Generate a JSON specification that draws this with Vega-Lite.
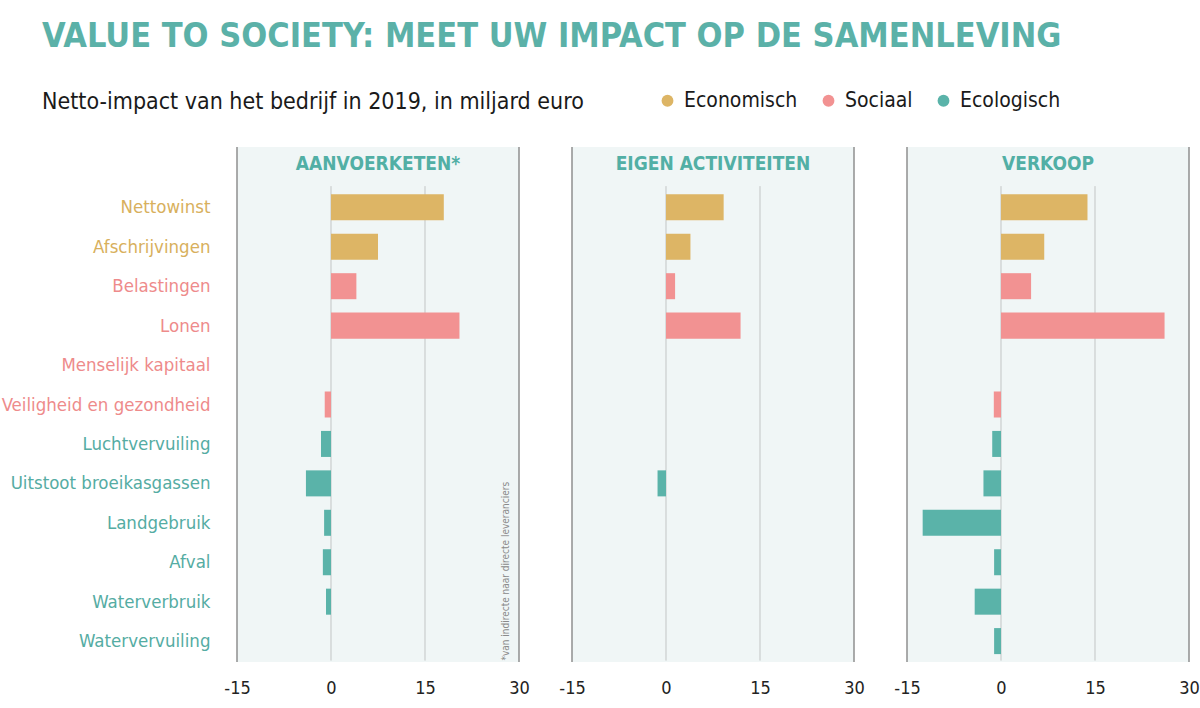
{
  "$schema": "https://vega.github.io/schema/vega-lite/v6.json",
  "padding": {"left": 0, "top": 20, "right": 0, "bottom": 0},
  "background": "white",
  "title": {
    "text": "VALUE TO SOCIETY: MEET UW IMPACT OP DE SAMENLEVING",
    "subtitle": "Netto-impact van het bedrijf in 2019, in miljard euro",
    "anchor": "start",
    "frame": "bounds",
    "dx": 42,
    "font": "DejaVu Sans Condensed",
    "fontSize": 34,
    "fontWeight": "bold",
    "color": "#5BB1A8",
    "subtitleFont": "DejaVu Sans Condensed",
    "subtitleFontSize": 23,
    "subtitleColor": "#1a1a1a",
    "subtitlePadding": 37,
    "offset": -24
  },
  "data": {
    "values": [
      {"panel": "AANVOERKETEN*", "categorie": "Nettowinst", "type": "Economisch", "waarde": 18.0},
      {"panel": "AANVOERKETEN*", "categorie": "Afschrijvingen", "type": "Economisch", "waarde": 7.5},
      {"panel": "AANVOERKETEN*", "categorie": "Belastingen", "type": "Sociaal", "waarde": 4.05},
      {"panel": "AANVOERKETEN*", "categorie": "Lonen", "type": "Sociaal", "waarde": 20.5},
      {"panel": "AANVOERKETEN*", "categorie": "Menselijk kapitaal", "type": "Sociaal", "waarde": 0},
      {"panel": "AANVOERKETEN*", "categorie": "Veiligheid en gezondheid", "type": "Sociaal", "waarde": -1.0},
      {"panel": "AANVOERKETEN*", "categorie": "Luchtvervuiling", "type": "Ecologisch", "waarde": -1.6},
      {"panel": "AANVOERKETEN*", "categorie": "Uitstoot broeikasgassen", "type": "Ecologisch", "waarde": -4.0},
      {"panel": "AANVOERKETEN*", "categorie": "Landgebruik", "type": "Ecologisch", "waarde": -1.1},
      {"panel": "AANVOERKETEN*", "categorie": "Afval", "type": "Ecologisch", "waarde": -1.3},
      {"panel": "AANVOERKETEN*", "categorie": "Waterverbruik", "type": "Ecologisch", "waarde": -0.8},
      {"panel": "AANVOERKETEN*", "categorie": "Watervervuiling", "type": "Ecologisch", "waarde": 0},
      {"panel": "EIGEN ACTIVITEITEN", "categorie": "Nettowinst", "type": "Economisch", "waarde": 9.2},
      {"panel": "EIGEN ACTIVITEITEN", "categorie": "Afschrijvingen", "type": "Economisch", "waarde": 3.9},
      {"panel": "EIGEN ACTIVITEITEN", "categorie": "Belastingen", "type": "Sociaal", "waarde": 1.45},
      {"panel": "EIGEN ACTIVITEITEN", "categorie": "Lonen", "type": "Sociaal", "waarde": 11.9},
      {"panel": "EIGEN ACTIVITEITEN", "categorie": "Menselijk kapitaal", "type": "Sociaal", "waarde": 0},
      {"panel": "EIGEN ACTIVITEITEN", "categorie": "Veiligheid en gezondheid", "type": "Sociaal", "waarde": 0},
      {"panel": "EIGEN ACTIVITEITEN", "categorie": "Luchtvervuiling", "type": "Ecologisch", "waarde": 0},
      {"panel": "EIGEN ACTIVITEITEN", "categorie": "Uitstoot broeikasgassen", "type": "Ecologisch", "waarde": -1.35},
      {"panel": "EIGEN ACTIVITEITEN", "categorie": "Landgebruik", "type": "Ecologisch", "waarde": 0},
      {"panel": "EIGEN ACTIVITEITEN", "categorie": "Afval", "type": "Ecologisch", "waarde": 0},
      {"panel": "EIGEN ACTIVITEITEN", "categorie": "Waterverbruik", "type": "Ecologisch", "waarde": 0},
      {"panel": "EIGEN ACTIVITEITEN", "categorie": "Watervervuiling", "type": "Ecologisch", "waarde": 0},
      {"panel": "VERKOOP", "categorie": "Nettowinst", "type": "Economisch", "waarde": 13.8},
      {"panel": "VERKOOP", "categorie": "Afschrijvingen", "type": "Economisch", "waarde": 6.9},
      {"panel": "VERKOOP", "categorie": "Belastingen", "type": "Sociaal", "waarde": 4.8},
      {"panel": "VERKOOP", "categorie": "Lonen", "type": "Sociaal", "waarde": 26.1},
      {"panel": "VERKOOP", "categorie": "Menselijk kapitaal", "type": "Sociaal", "waarde": 0},
      {"panel": "VERKOOP", "categorie": "Veiligheid en gezondheid", "type": "Sociaal", "waarde": -1.15},
      {"panel": "VERKOOP", "categorie": "Luchtvervuiling", "type": "Ecologisch", "waarde": -1.4},
      {"panel": "VERKOOP", "categorie": "Uitstoot broeikasgassen", "type": "Ecologisch", "waarde": -2.8},
      {"panel": "VERKOOP", "categorie": "Landgebruik", "type": "Ecologisch", "waarde": -12.5},
      {"panel": "VERKOOP", "categorie": "Afval", "type": "Ecologisch", "waarde": -1.1},
      {"panel": "VERKOOP", "categorie": "Waterverbruik", "type": "Ecologisch", "waarde": -4.2},
      {"panel": "VERKOOP", "categorie": "Watervervuiling", "type": "Ecologisch", "waarde": -1.1}
    ]
  },
  "spacing": 28,
  "hconcat": [
    {
      "width": 282,
      "height": 515,
      "layer": [
        {
          "data": {"values": [{"rand": -15}, {"rand": 30}]},
          "mark": {"type": "rule", "color": "#8f8f8f", "strokeWidth": 1.5},
          "encoding": {"x": {"field": "rand", "type": "quantitative", "scale": {"domain": [-15, 30], "nice": false, "zero": false}, "axis": {"title": null, "values": [-15, 0, 15, 30], "labelExpr": "'' + datum.value", "grid": false, "domain": false, "ticks": false, "labelFlush": false, "labelFontSize": 18, "labelFont": "DejaVu Sans Condensed", "labelColor": "#222222", "labelPadding": 17}}}
        },
        {
          "data": {"values": [{"lijn": 0}, {"lijn": 15}]},
          "mark": {"type": "rule", "color": "#c2c5c5", "strokeWidth": 1},
          "encoding": {
            "x": {"field": "lijn", "type": "quantitative", "axis": {"title": null, "values": [-15, 0, 15, 30], "labelExpr": "'' + datum.value", "grid": false, "domain": false, "ticks": false, "labelFlush": false, "labelFontSize": 18, "labelFont": "DejaVu Sans Condensed", "labelColor": "#222222", "labelPadding": 17}},
            "y": {"datum": "kop", "type": "nominal", "bandPosition": 1.2, "axis": {
                "title": null, "domain": false, "ticks": false, "labelFontSize": 18.5, "labelFont": "DejaVu Sans Condensed", "labelPadding": 27, "labelLimit": 0,
                "minExtent": 237, "maxExtent": 237,
                "labelExpr": "datum.value === 'kop' ? '' : datum.value",
                "labelColor": {"condition": [{"test": "indexof(['Nettowinst','Afschrijvingen'], datum.value) >= 0", "value": "#D8B05D"}, {"test": "indexof(['Belastingen','Lonen','Menselijk kapitaal','Veiligheid en gezondheid'], datum.value) >= 0", "value": "#EE8B8B"}], "value": "#55ACA3"}
              }},
            "y2": {"datum": "Watervervuiling", "bandPosition": 1.25}
          }
        },
        {
          "transform": [{"filter": "datum.panel === 'AANVOERKETEN*'"}],
          "mark": {"type": "bar"},
          "encoding": {
            "y": {
              "field": "categorie", "type": "nominal",
              "scale": {"domain": ["kop", "Nettowinst", "Afschrijvingen", "Belastingen", "Lonen", "Menselijk kapitaal", "Veiligheid en gezondheid", "Luchtvervuiling", "Uitstoot broeikasgassen", "Landgebruik", "Afval", "Waterverbruik", "Watervervuiling"], "paddingInner": 0.34, "paddingOuter": 0.2},
              "axis": {
                "title": null, "domain": false, "ticks": false, "labelFontSize": 18.5, "labelFont": "DejaVu Sans Condensed", "labelPadding": 27, "labelLimit": 0,
                "minExtent": 237, "maxExtent": 237,
                "labelExpr": "datum.value === 'kop' ? '' : datum.value",
                "labelColor": {"condition": [{"test": "indexof(['Nettowinst','Afschrijvingen'], datum.value) >= 0", "value": "#D8B05D"}, {"test": "indexof(['Belastingen','Lonen','Menselijk kapitaal','Veiligheid en gezondheid'], datum.value) >= 0", "value": "#EE8B8B"}], "value": "#55ACA3"}
              }
            },
            "x": {"field": "waarde", "type": "quantitative", "axis": {"title": null, "values": [-15, 0, 15, 30], "labelExpr": "'' + datum.value", "grid": false, "domain": false, "ticks": false, "labelFlush": false, "labelFontSize": 18, "labelFont": "DejaVu Sans Condensed", "labelColor": "#222222", "labelPadding": 17}},
            "color": {
              "field": "type", "type": "nominal",
              "scale": {"domain": ["Economisch", "Sociaal", "Ecologisch"], "range": ["#DDB565", "#F29292", "#5AB3A9"]},
              "legend": {"orient": "none", "legendX": 420, "legendY": -57, "direction": "horizontal", "title": null, "symbolType": "circle", "symbolSize": 140, "symbolStrokeWidth": 0, "labelFontSize": 21, "labelFont": "DejaVu Sans Condensed", "labelColor": "#1a1a1a", "columnPadding": 20, "labelOffset": 6}
            }
          }
        },
        {
          "data": {"values": [{"kop": "AANVOERKETEN*"}]},
          "mark": {"type": "text", "font": "DejaVu Sans Condensed", "fontSize": 19, "fontWeight": "bold", "color": "#52AFA5", "dy": -4},
          "encoding": {
            "text": {"field": "kop"},
            "x": {"datum": 7.5, "axis": {"title": null, "values": [-15, 0, 15, 30], "labelExpr": "'' + datum.value", "grid": false, "domain": false, "ticks": false, "labelFlush": false, "labelFontSize": 18, "labelFont": "DejaVu Sans Condensed", "labelColor": "#222222", "labelPadding": 17}},
            "y": {"datum": "kop", "type": "nominal", "axis": {
                "title": null, "domain": false, "ticks": false, "labelFontSize": 18.5, "labelFont": "DejaVu Sans Condensed", "labelPadding": 27, "labelLimit": 0,
                "minExtent": 237, "maxExtent": 237,
                "labelExpr": "datum.value === 'kop' ? '' : datum.value",
                "labelColor": {"condition": [{"test": "indexof(['Nettowinst','Afschrijvingen'], datum.value) >= 0", "value": "#D8B05D"}, {"test": "indexof(['Belastingen','Lonen','Menselijk kapitaal','Veiligheid en gezondheid'], datum.value) >= 0", "value": "#EE8B8B"}], "value": "#55ACA3"}
              }}
          }
        },
        {
          "data": {"values": [{"noot": "*van indirecte naar directe leveranciers"}]},
          "mark": {"type": "text", "angle": 270, "align": "left", "baseline": "middle", "font": "DejaVu Sans Condensed", "fontSize": 10, "color": "#8a8a8a"},
          "encoding": {
            "text": {"field": "noot"},
            "x": {"datum": 28, "axis": {"title": null, "values": [-15, 0, 15, 30], "labelExpr": "'' + datum.value", "grid": false, "domain": false, "ticks": false, "labelFlush": false, "labelFontSize": 18, "labelFont": "DejaVu Sans Condensed", "labelColor": "#222222", "labelPadding": 17}},
            "y": {"datum": "Watervervuiling", "type": "nominal", "bandPosition": 1.25, "axis": {
                "title": null, "domain": false, "ticks": false, "labelFontSize": 18.5, "labelFont": "DejaVu Sans Condensed", "labelPadding": 27, "labelLimit": 0,
                "minExtent": 237, "maxExtent": 237,
                "labelExpr": "datum.value === 'kop' ? '' : datum.value",
                "labelColor": {"condition": [{"test": "indexof(['Nettowinst','Afschrijvingen'], datum.value) >= 0", "value": "#D8B05D"}, {"test": "indexof(['Belastingen','Lonen','Menselijk kapitaal','Veiligheid en gezondheid'], datum.value) >= 0", "value": "#EE8B8B"}], "value": "#55ACA3"}
              }}
          }
        }
      ]
    },
    {
      "width": 282,
      "height": 515,
      "layer": [
        {
          "data": {"values": [{"rand": -15}, {"rand": 30}]},
          "mark": {"type": "rule", "color": "#8f8f8f", "strokeWidth": 1.5},
          "encoding": {"x": {"field": "rand", "type": "quantitative", "scale": {"domain": [-15, 30], "nice": false, "zero": false}, "axis": {"title": null, "values": [-15, 0, 15, 30], "labelExpr": "'' + datum.value", "grid": false, "domain": false, "ticks": false, "labelFlush": false, "labelFontSize": 18, "labelFont": "DejaVu Sans Condensed", "labelColor": "#222222", "labelPadding": 17}}}
        },
        {
          "data": {"values": [{"lijn": 0}, {"lijn": 15}]},
          "mark": {"type": "rule", "color": "#c2c5c5", "strokeWidth": 1},
          "encoding": {
            "x": {"field": "lijn", "type": "quantitative", "axis": {"title": null, "values": [-15, 0, 15, 30], "labelExpr": "'' + datum.value", "grid": false, "domain": false, "ticks": false, "labelFlush": false, "labelFontSize": 18, "labelFont": "DejaVu Sans Condensed", "labelColor": "#222222", "labelPadding": 17}},
            "y": {"datum": "kop", "type": "nominal", "bandPosition": 1.2, "axis": null},
            "y2": {"datum": "Watervervuiling", "bandPosition": 1.25}
          }
        },
        {
          "transform": [{"filter": "datum.panel === 'EIGEN ACTIVITEITEN'"}],
          "mark": {"type": "bar"},
          "encoding": {
            "y": {
              "field": "categorie", "type": "nominal",
              "scale": {"domain": ["kop", "Nettowinst", "Afschrijvingen", "Belastingen", "Lonen", "Menselijk kapitaal", "Veiligheid en gezondheid", "Luchtvervuiling", "Uitstoot broeikasgassen", "Landgebruik", "Afval", "Waterverbruik", "Watervervuiling"], "paddingInner": 0.34, "paddingOuter": 0.2},
              "axis": null
            },
            "x": {"field": "waarde", "type": "quantitative", "axis": {"title": null, "values": [-15, 0, 15, 30], "labelExpr": "'' + datum.value", "grid": false, "domain": false, "ticks": false, "labelFlush": false, "labelFontSize": 18, "labelFont": "DejaVu Sans Condensed", "labelColor": "#222222", "labelPadding": 17}},
            "color": {
              "field": "type", "type": "nominal",
              "scale": {"domain": ["Economisch", "Sociaal", "Ecologisch"], "range": ["#DDB565", "#F29292", "#5AB3A9"]},
              "legend": {"orient": "none", "legendX": 420, "legendY": -57, "direction": "horizontal", "title": null, "symbolType": "circle", "symbolSize": 140, "symbolStrokeWidth": 0, "labelFontSize": 21, "labelFont": "DejaVu Sans Condensed", "labelColor": "#1a1a1a", "columnPadding": 20, "labelOffset": 6}
            }
          }
        },
        {
          "data": {"values": [{"kop": "EIGEN ACTIVITEITEN"}]},
          "mark": {"type": "text", "font": "DejaVu Sans Condensed", "fontSize": 19, "fontWeight": "bold", "color": "#52AFA5", "dy": -4},
          "encoding": {
            "text": {"field": "kop"},
            "x": {"datum": 7.5, "axis": {"title": null, "values": [-15, 0, 15, 30], "labelExpr": "'' + datum.value", "grid": false, "domain": false, "ticks": false, "labelFlush": false, "labelFontSize": 18, "labelFont": "DejaVu Sans Condensed", "labelColor": "#222222", "labelPadding": 17}},
            "y": {"datum": "kop", "type": "nominal", "axis": null}
          }
        }
      ]
    },
    {
      "width": 282,
      "height": 515,
      "layer": [
        {
          "data": {"values": [{"rand": -15}, {"rand": 30}]},
          "mark": {"type": "rule", "color": "#8f8f8f", "strokeWidth": 1.5},
          "encoding": {"x": {"field": "rand", "type": "quantitative", "scale": {"domain": [-15, 30], "nice": false, "zero": false}, "axis": {"title": null, "values": [-15, 0, 15, 30], "labelExpr": "'' + datum.value", "grid": false, "domain": false, "ticks": false, "labelFlush": false, "labelFontSize": 18, "labelFont": "DejaVu Sans Condensed", "labelColor": "#222222", "labelPadding": 17}}}
        },
        {
          "data": {"values": [{"lijn": 0}, {"lijn": 15}]},
          "mark": {"type": "rule", "color": "#c2c5c5", "strokeWidth": 1},
          "encoding": {
            "x": {"field": "lijn", "type": "quantitative", "axis": {"title": null, "values": [-15, 0, 15, 30], "labelExpr": "'' + datum.value", "grid": false, "domain": false, "ticks": false, "labelFlush": false, "labelFontSize": 18, "labelFont": "DejaVu Sans Condensed", "labelColor": "#222222", "labelPadding": 17}},
            "y": {"datum": "kop", "type": "nominal", "bandPosition": 1.2, "axis": null},
            "y2": {"datum": "Watervervuiling", "bandPosition": 1.25}
          }
        },
        {
          "transform": [{"filter": "datum.panel === 'VERKOOP'"}],
          "mark": {"type": "bar"},
          "encoding": {
            "y": {
              "field": "categorie", "type": "nominal",
              "scale": {"domain": ["kop", "Nettowinst", "Afschrijvingen", "Belastingen", "Lonen", "Menselijk kapitaal", "Veiligheid en gezondheid", "Luchtvervuiling", "Uitstoot broeikasgassen", "Landgebruik", "Afval", "Waterverbruik", "Watervervuiling"], "paddingInner": 0.34, "paddingOuter": 0.2},
              "axis": null
            },
            "x": {"field": "waarde", "type": "quantitative", "axis": {"title": null, "values": [-15, 0, 15, 30], "labelExpr": "'' + datum.value", "grid": false, "domain": false, "ticks": false, "labelFlush": false, "labelFontSize": 18, "labelFont": "DejaVu Sans Condensed", "labelColor": "#222222", "labelPadding": 17}},
            "color": {
              "field": "type", "type": "nominal",
              "scale": {"domain": ["Economisch", "Sociaal", "Ecologisch"], "range": ["#DDB565", "#F29292", "#5AB3A9"]},
              "legend": {"orient": "none", "legendX": 420, "legendY": -57, "direction": "horizontal", "title": null, "symbolType": "circle", "symbolSize": 140, "symbolStrokeWidth": 0, "labelFontSize": 21, "labelFont": "DejaVu Sans Condensed", "labelColor": "#1a1a1a", "columnPadding": 20, "labelOffset": 6}
            }
          }
        },
        {
          "data": {"values": [{"kop": "VERKOOP"}]},
          "mark": {"type": "text", "font": "DejaVu Sans Condensed", "fontSize": 19, "fontWeight": "bold", "color": "#52AFA5", "dy": -4},
          "encoding": {
            "text": {"field": "kop"},
            "x": {"datum": 7.5, "axis": {"title": null, "values": [-15, 0, 15, 30], "labelExpr": "'' + datum.value", "grid": false, "domain": false, "ticks": false, "labelFlush": false, "labelFontSize": 18, "labelFont": "DejaVu Sans Condensed", "labelColor": "#222222", "labelPadding": 17}},
            "y": {"datum": "kop", "type": "nominal", "axis": null}
          }
        }
      ]
    }
  ],
  "config": {
    "view": {"fill": "#F0F6F6", "stroke": null},
    "font": "DejaVu Sans Condensed"
  }
}
